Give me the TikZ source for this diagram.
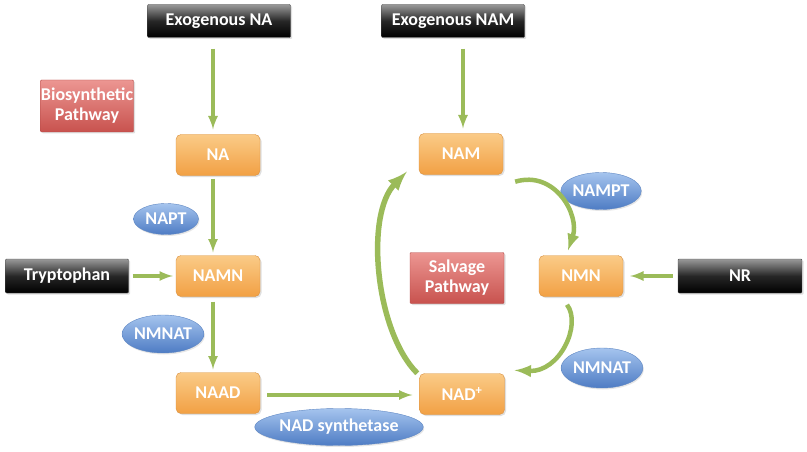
\documentclass[tikz,border=0pt]{standalone}
\usepackage{fontspec}
\setmainfont{Carlito}
\usetikzlibrary{shadows,shapes.geometric}

\definecolor{arrowgreen}{RGB}{155,187,89}
\definecolor{orangetop}{RGB}{250,203,135}
\definecolor{orangebot}{RGB}{242,160,68}
\definecolor{orangeline}{RGB}{218,145,65}
\definecolor{redtop}{RGB}{236,150,146}
\definecolor{redbot}{RGB}{200,82,78}
\definecolor{redline}{RGB}{180,75,72}
\definecolor{bluetop}{RGB}{165,196,238}
\definecolor{bluebot}{RGB}{78,124,196}
\definecolor{blueline}{RGB}{95,135,195}

\begin{document}
\begin{tikzpicture}[x=1pt,y=1pt,font=\fontsize{18}{20}\selectfont\bfseries,>=latex]
    \tikzstyle{base box}=[rectangle,text=white,inner sep=0,align=center,drop shadow={opacity=0.25,shadow xshift=1.5pt,shadow yshift=-1.5pt}]
    \tikzstyle{black box}=[base box,minimum width=143,minimum height=33,rounded corners=1pt,draw=black!70,top color=black!40,bottom color=black,middle color=black!85]
    \tikzstyle{orange box}=[base box,minimum width=84,minimum height=41,rounded corners=5pt,draw=orangeline,top color=orangetop,bottom color=orangebot]
    \tikzstyle{red box}=[base box,minimum width=93,minimum height=52,rounded corners=1pt,draw=redline,top color=redtop,bottom color=redbot]
    \tikzstyle{enzyme}=[ellipse,text=white,inner sep=0,minimum width=66,minimum height=37,draw=blueline,top color=bluetop,bottom color=bluebot,drop shadow={opacity=0.2,shadow xshift=1pt,shadow yshift=-1.5pt}]
    \tikzstyle{green arrow}=[->,draw=arrowgreen,line width=3.5pt]
    \tikzstyle{cycle arrow}=[->,draw=arrowgreen,line width=4.5pt]

    \useasboundingbox (0,0) rectangle (807,-452);

    % biosynthetic side
    \node(ExoNA)[black box] at (219,-21) {Exogenous NA};
    \node(Bio)[red box] at (87,-106) {Biosynthetic\\Pathway};
    \node(NA)[orange box] at (218,-155) {NA};
    \node(NAPT)[enzyme,minimum width=65,minimum height=31] at (166,-219) {NAPT};
    \node(Tryp)[black box,minimum width=123,minimum height=34] at (67,-276) {Tryptophan};
    \node(NAMN)[orange box] at (218,-276) {NAMN};
    \node(NMNATa)[enzyme,minimum width=67,minimum height=38] at (163,-334) {NMNAT};
    \node(NAAD)[orange box] at (218,-393) {NAAD};
    \node(NADsyn)[enzyme,minimum width=148] at (339,-427) {NAD synthetase};

    % salvage side
    \node(ExoNAM)[black box] at (453,-21) {Exogenous NAM};
    \node(NAM)[orange box] at (461,-154) {NAM};
    \node(NAMPT)[enzyme] at (601,-191) {NAMPT};
    \node(Salv)[red box,minimum width=94,minimum height=51] at (457,-278) {Salvage\\Pathway};
    \node(NMN)[orange box] at (581,-276) {NMN};
    \node(NR)[black box,minimum width=124,minimum height=34] at (740,-276) {NR};
    \node(NMNATb)[enzyme,minimum width=64,minimum height=40] at (602,-368) {NMNAT};
    \node(NADp)[orange box,minimum width=85] at (462,-394) {NAD\textsuperscript{+}};

    \draw[green arrow,shorten <=11pt,shorten >=5pt] ([xshift=-6pt]ExoNA.south) -- ([xshift=-5pt]NA.north);
    \draw[green arrow,shorten <=3pt,shorten >=3pt] ([xshift=-5pt]NA.south) -- ([xshift=-5pt]NAMN.north);
    \draw[green arrow,shorten <=4pt,shorten >=3pt] (Tryp.east) -- (NAMN.west);
    \draw[green arrow,shorten <=5pt,shorten >=3pt] ([xshift=-5pt]NAMN.south) -- ([xshift=-5pt]NAAD.north);
    \draw[green arrow,shorten <=7pt,shorten >=7pt] ([yshift=-2pt]NAAD.east) -- ([yshift=-1pt]NADp.west);
    \draw[green arrow,shorten <=11pt,shorten >=5pt] ([xshift=10pt]ExoNAM.south) -- ([xshift=2pt]NAM.north);
    \draw[green arrow,shorten <=5pt,shorten >=7pt] (NR.west) -- (NMN.east);

    \draw[cycle arrow] ([shift={(12pt,-7pt)}]NAM.south east) .. controls +(40,12) and +(12,35) .. ([shift={(-13pt,5pt)}]NMN.north);
    \draw[cycle arrow] ([shift={(-14pt,-8pt)}]NMN.south) .. controls +(15,-20) and +(45,-2) .. ([shift={(10pt,3pt)}]NADp.north east);
    \draw[cycle arrow,line width=5.5pt] ([xshift=-2pt]NADp.north west) .. controls +(-42,42) and +(-42,-43) .. ([shift={(-12pt,3pt)}]NAM.south west);
\end{tikzpicture}
\end{document}
